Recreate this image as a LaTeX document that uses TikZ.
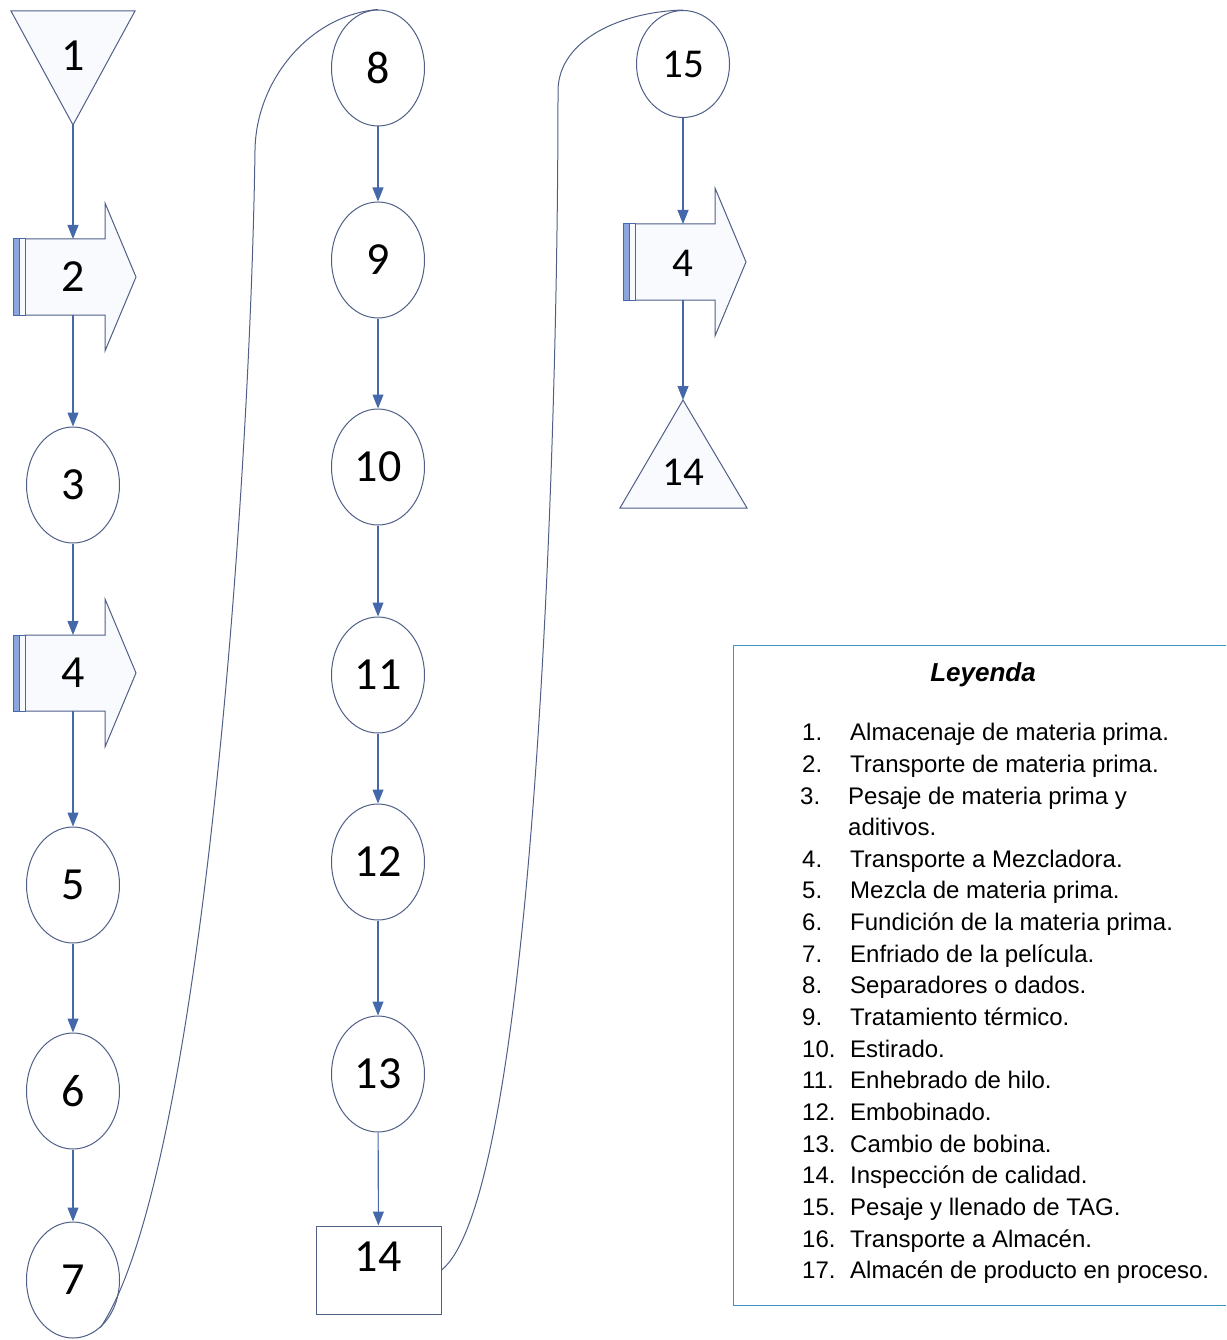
\documentclass[tikz,border=0pt]{standalone}
\usepackage{fontspec}
\setmainfont{Liberation Sans}
\newfontfamily\calib{Carlito}
\usetikzlibrary{shapes.geometric,arrows.meta}
\definecolor{conn}{RGB}{68,104,170}
\definecolor{outl}{RGB}{80,95,135}
\definecolor{barfill}{RGB}{140,165,220}
\definecolor{bodyfill}{RGB}{248,250,254}
\definecolor{legc}{RGB}{60,150,195}
\tikzset{
  dig/.style={font=\calib\fontsize{46}{46}\selectfont,inner sep=0pt},
  digs/.style={font=\calib\fontsize{41}{41}\selectfont,inner sep=0pt},
  circ/.style={ellipse,draw=outl,line width=1pt,fill=white,minimum width=93pt,minimum height=116pt,inner sep=0pt,dig},
  flow/.style={draw=conn,line width=1.1pt,-{Triangle[width=11pt,length=14pt]}},
  loopline/.style={draw=outl,line width=1pt},
  shp/.style={draw=outl,line width=1pt,fill=bodyfill},
  legtxt/.style={font=\fontsize{24}{28}\selectfont,anchor=base west,inner sep=0pt},
  blockarr/.pic={
    \path[shp] (-48,-38) -- (32,-38) -- (32,-74) -- (63,0) -- (32,74) -- (32,38) -- (-48,38) -- cycle;
    \path[draw=conn,line width=1pt,fill=barfill] (-60,-38) rectangle (-54,38);
    \path[draw=conn,line width=1pt,fill=bodyfill] (-54,-38) rectangle (-48,38);
    \coordinate (-top) at (0,-38);
    \coordinate (-bot) at (0,38);
  }
}
\begin{document}
\begin{tikzpicture}[x=1pt,y=-1pt]
\useasboundingbox (0,0) rectangle (1226,1340);

% ---- column 1
\path[shp] (11,11) -- (135,11) -- (73,125) -- cycle;
\coordinate (t1apex) at (73,125);
\node[dig] (t1) at (73,56) {1};
\pic (p2) at (73,277) {blockarr};
\node[dig] (t2) at (73,277) {2};
\node[circ] (n3) at (73,485) {3};
\pic (p4) at (73,673) {blockarr};
\node[dig] (t4) at (73,673) {4};
\node[circ] (n5) at (73,885) {5};
\node[circ] (n6) at (73,1091) {6};
\node[circ] (n7) at (73,1280) {7};

% ---- column 2
\node[circ] (n8) at (378,68) {8};
\node[circ] (n9) at (378,260) {9};
\node[circ] (n10) at (378,467) {10};
\node[circ] (n11) at (378,675) {11};
\node[circ] (n12) at (378,862) {12};
\node[circ] (n13) at (378,1074) {13};
\node[draw=outl,line width=1pt,minimum width=125pt,minimum height=88pt,inner sep=0pt] (r14) at (378.5,1270) {};
\node[dig] (t14) at (378,1257) {14};

% ---- column 3
\node[circ,digs,minimum height=107pt] (n15) at (683,64) {15};
\pic (p16) at (683,262) {blockarr};
\node[digs] (t16) at (683,263) {4};
\path[shp] (683,400) -- (747,508) -- (620,508) -- cycle;
\coordinate (t17apex) at (683,400);
\node[digs] (t17) at (683,472) {14};

% ---- connectors
\draw[flow] (t1apex) -- (p2-top);
\draw[flow] (p2-bot) -- (n3);
\draw[flow] (n3) -- (p4-top);
\draw[flow] (p4-bot) -- (n5);
\draw[flow] (n5) -- (n6);
\draw[flow] (n6) -- (n7);
\draw[flow] (n8) -- (n9);
\draw[flow] (n9) -- (n10);
\draw[flow] (n10) -- (n11);
\draw[flow] (n11) -- (n12);
\draw[flow] (n12) -- (n13);
\draw[flow] (n13) -- (r14);
\draw[flow] (n15) -- (p16-top);
\draw[flow] (p16-bot) -- (t17apex);

\draw[loopline] (n7.-60) .. controls (200,1180) and (250,500) .. (255,150)
  .. controls (256,80) and (310,15) .. (n8.north);
\draw[loopline] (r14.east) .. controls (530,1200) and (558,500) .. (558,90)
  .. controls (559,40) and (620,12) .. (n15.north);

% ---- legend
\draw[legc,line width=1pt] (1226,645) -- (733,645) -- (733,1305) -- (1226,1305);
\node[font=\bfseries\itshape\fontsize{26}{30}\selectfont,anchor=base,inner sep=0pt] (legtitle) at (983,681) {Leyenda};
\foreach \n/\t/\y in {1/Almacenaje de materia prima./740,
  2/Transporte de materia prima./772,
  4/Transporte a Mezcladora./867,
  5/Mezcla de materia prima./898,
  6/Fundición de la materia prima./930,
  7/Enfriado de la película./962,
  8/Separadores o dados./993,
  9/Tratamiento térmico./1025,
  10/Estirado./1057,
  11/Enhebrado de hilo./1088,
  12/Embobinado./1120,
  13/Cambio de bobina./1152,
  14/Inspección de calidad./1183,
  15/Pesaje y llenado de TAG./1215,
  16/Transporte a Almacén./1247,
  17/Almacén de producto en proceso./1278}{
  \node[legtxt] (lnum\n) at (802,\y) {\n.};
  \node[legtxt] (ltxt\n) at (850,\y) {\t};
}
\node[legtxt] (lnum3) at (800,804) {3.};
\node[legtxt] (ltxt3) at (848,804) {Pesaje de materia prima y};
\node[legtxt] (ltxt3b) at (848,835) {aditivos.};
\end{tikzpicture}
\end{document}
